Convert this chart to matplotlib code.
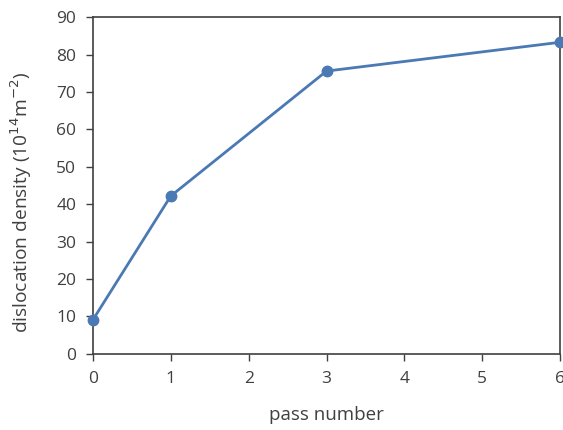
import matplotlib
matplotlib.use("Agg")
import matplotlib.pyplot as plt

# data
pass_number = [0, 1, 3, 6]
density = [9.1, 42.2, 75.6, 83.3]
x_ticks = [0, 1, 2, 3, 4, 5, 6]
y_ticks = [0, 10, 20, 30, 40, 50, 60, 70, 80, 90]

plt.rcParams["font.family"] = ["Open Sans", "DejaVu Sans"]
text_color = "#404040"

fig = plt.figure(figsize=(5.63, 4.30), dpi=100)
ax = fig.add_axes([0.165, 0.177, 0.830, 0.783])

ax.plot(pass_number, density, color="#4A79B3", linewidth=2.0,
        marker="o", markersize=7.5, clip_on=False, zorder=5)

ax.set_xlim(0, 6)
ax.set_ylim(0, 90)
ax.set_xticks(x_ticks)
ax.set_yticks(y_ticks)
ax.tick_params(direction="out", length=5, width=1, colors="#404040",
               labelsize=12.5, labelcolor=text_color)
ax.tick_params(axis="x", pad=7)
ax.tick_params(axis="y", pad=7)

for sp in ax.spines.values():
    sp.set_color("#404040")
    sp.set_linewidth(1.2)

ax.set_xlabel("pass number", fontsize=13.5, color=text_color, labelpad=14)
ax.set_ylabel("dislocation density (10$^{14}$m$^{-2}$)", fontsize=13.8,
              color=text_color)
ax.yaxis.set_label_coords(-0.127, 0.451)

fig.savefig("out.png", dpi=100)
